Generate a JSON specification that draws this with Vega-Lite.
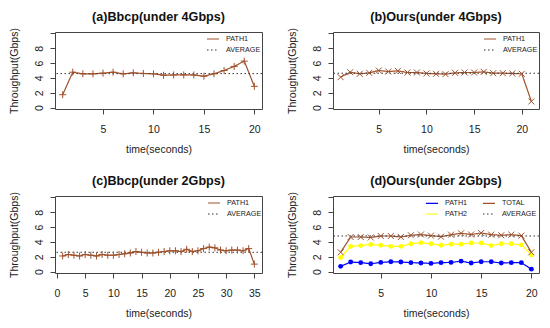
{
  "$schema": "https://vega.github.io/schema/vega-lite/v6.json",
  "background": "white",
  "padding": {"left": 8, "top": 10, "right": 0, "bottom": 0},
  "config": {
    "view": {"stroke": "#444", "strokeWidth": 1},
    "font": "Liberation Sans",
    "axis": {"grid": false, "domain": false, "tickColor": "#444", "tickSize": 5, "labelFont": "Liberation Sans", "labelFontSize": 10.5, "labelColor": "#222", "titleFont": "Liberation Sans", "titleFontSize": 10.5, "titleFontWeight": "normal", "titleColor": "#222", "labelFlush": false},
    "axisX": {"labelPadding": 10, "titlePadding": 10},
    "axisY": {"labelAngle": -90, "labelAlign": "center", "labelBaseline": "bottom", "labelPadding": 6, "titlePadding": 15},
    "title": {"font": "Liberation Sans", "fontSize": 12.6, "fontWeight": "bold", "color": "#111", "anchor": "middle", "baseline": "alphabetic", "offset": 4},
    "legend": {"orient": "none", "title": null, "symbolType": "stroke", "symbolSize": 144, "symbolStrokeWidth": 1.2, "labelFontSize": 7.2, "labelFont": "Liberation Sans", "labelColor": "#222", "labelOffset": 6, "rowPadding": 0, "padding": 0, "legendY": 0}
  },
  "datasets": {
    "a": [
      {"t":1,"v":1.73,"s":"PATH1"},{"t":2,"v":4.77,"s":"PATH1"},{"t":3,"v":4.55,"s":"PATH1"},{"t":4,"v":4.55,"s":"PATH1"},{"t":5,"v":4.64,"s":"PATH1"},
      {"t":6,"v":4.77,"s":"PATH1"},{"t":7,"v":4.55,"s":"PATH1"},{"t":8,"v":4.68,"s":"PATH1"},{"t":9,"v":4.6,"s":"PATH1"},{"t":10,"v":4.55,"s":"PATH1"},
      {"t":11,"v":4.36,"s":"PATH1"},{"t":12,"v":4.4,"s":"PATH1"},{"t":13,"v":4.4,"s":"PATH1"},{"t":14,"v":4.4,"s":"PATH1"},{"t":15,"v":4.23,"s":"PATH1"},
      {"t":16,"v":4.55,"s":"PATH1"},{"t":17,"v":5.0,"s":"PATH1"},{"t":18,"v":5.55,"s":"PATH1"},{"t":19,"v":6.27,"s":"PATH1"},{"t":20,"v":2.86,"s":"PATH1"}
    ],
    "b": [
      {"t":1,"v":4.1,"s":"PATH1"},{"t":2,"v":4.77,"s":"PATH1"},{"t":3,"v":4.55,"s":"PATH1"},{"t":4,"v":4.68,"s":"PATH1"},{"t":5,"v":5.0,"s":"PATH1"},
      {"t":6,"v":4.86,"s":"PATH1"},{"t":7,"v":4.95,"s":"PATH1"},{"t":8,"v":4.73,"s":"PATH1"},{"t":9,"v":4.73,"s":"PATH1"},{"t":10,"v":4.6,"s":"PATH1"},
      {"t":11,"v":4.55,"s":"PATH1"},{"t":12,"v":4.5,"s":"PATH1"},{"t":13,"v":4.68,"s":"PATH1"},{"t":14,"v":4.73,"s":"PATH1"},{"t":15,"v":4.73,"s":"PATH1"},
      {"t":16,"v":4.82,"s":"PATH1"},{"t":17,"v":4.64,"s":"PATH1"},{"t":18,"v":4.64,"s":"PATH1"},{"t":19,"v":4.6,"s":"PATH1"},{"t":20,"v":4.55,"s":"PATH1"},
      {"t":21,"v":0.82,"s":"PATH1"}
    ],
    "c": [
      {"t":1,"v":2.1,"s":"PATH1"},{"t":2,"v":2.3,"s":"PATH1"},{"t":3,"v":2.2,"s":"PATH1"},{"t":4,"v":2.1,"s":"PATH1"},{"t":5,"v":2.3,"s":"PATH1"},
      {"t":6,"v":2.2,"s":"PATH1"},{"t":7,"v":2.1,"s":"PATH1"},{"t":8,"v":2.3,"s":"PATH1"},{"t":9,"v":2.2,"s":"PATH1"},{"t":10,"v":2.2,"s":"PATH1"},
      {"t":11,"v":2.3,"s":"PATH1"},{"t":12,"v":2.4,"s":"PATH1"},{"t":13,"v":2.5,"s":"PATH1"},{"t":14,"v":2.7,"s":"PATH1"},{"t":15,"v":2.6,"s":"PATH1"},
      {"t":16,"v":2.5,"s":"PATH1"},{"t":17,"v":2.5,"s":"PATH1"},{"t":18,"v":2.6,"s":"PATH1"},{"t":19,"v":2.7,"s":"PATH1"},{"t":20,"v":2.8,"s":"PATH1"},
      {"t":21,"v":2.8,"s":"PATH1"},{"t":22,"v":2.7,"s":"PATH1"},{"t":23,"v":3.0,"s":"PATH1"},{"t":24,"v":2.7,"s":"PATH1"},{"t":25,"v":2.8,"s":"PATH1"},
      {"t":26,"v":3.1,"s":"PATH1"},{"t":27,"v":3.3,"s":"PATH1"},{"t":28,"v":3.2,"s":"PATH1"},{"t":29,"v":2.9,"s":"PATH1"},{"t":30,"v":2.8,"s":"PATH1"},
      {"t":31,"v":2.9,"s":"PATH1"},{"t":32,"v":2.9,"s":"PATH1"},{"t":33,"v":2.8,"s":"PATH1"},{"t":34,"v":3.1,"s":"PATH1"},{"t":35,"v":1.0,"s":"PATH1"}
    ],
    "d": [
      {"t":1,"v":2.6,"s":"TOTAL"},{"t":2,"v":4.66,"s":"TOTAL"},{"t":3,"v":4.66,"s":"TOTAL"},{"t":4,"v":4.6,"s":"TOTAL"},{"t":5,"v":4.8,"s":"TOTAL"},
      {"t":6,"v":4.8,"s":"TOTAL"},{"t":7,"v":4.66,"s":"TOTAL"},{"t":8,"v":4.9,"s":"TOTAL"},{"t":9,"v":5.0,"s":"TOTAL"},{"t":10,"v":4.85,"s":"TOTAL"},
      {"t":11,"v":4.7,"s":"TOTAL"},{"t":12,"v":4.98,"s":"TOTAL"},{"t":13,"v":5.16,"s":"TOTAL"},{"t":14,"v":5.0,"s":"TOTAL"},{"t":15,"v":5.2,"s":"TOTAL"},
      {"t":16,"v":4.98,"s":"TOTAL"},{"t":17,"v":4.9,"s":"TOTAL"},{"t":18,"v":4.98,"s":"TOTAL"},{"t":19,"v":4.85,"s":"TOTAL"},{"t":20,"v":2.6,"s":"TOTAL"},
      {"t":1,"v":1.9,"s":"PATH2"},{"t":2,"v":3.4,"s":"PATH2"},{"t":3,"v":3.5,"s":"PATH2"},{"t":4,"v":3.65,"s":"PATH2"},{"t":5,"v":3.55,"s":"PATH2"},
      {"t":6,"v":3.4,"s":"PATH2"},{"t":7,"v":3.4,"s":"PATH2"},{"t":8,"v":3.75,"s":"PATH2"},{"t":9,"v":3.9,"s":"PATH2"},{"t":10,"v":3.75,"s":"PATH2"},
      {"t":11,"v":3.55,"s":"PATH2"},{"t":12,"v":3.7,"s":"PATH2"},{"t":13,"v":3.7,"s":"PATH2"},{"t":14,"v":3.85,"s":"PATH2"},{"t":15,"v":3.85,"s":"PATH2"},
      {"t":16,"v":3.5,"s":"PATH2"},{"t":17,"v":3.75,"s":"PATH2"},{"t":18,"v":3.75,"s":"PATH2"},{"t":19,"v":3.6,"s":"PATH2"},{"t":20,"v":2.25,"s":"PATH2"},
      {"t":1,"v":0.7,"s":"PATH1"},{"t":2,"v":1.28,"s":"PATH1"},{"t":3,"v":1.2,"s":"PATH1"},{"t":4,"v":1.05,"s":"PATH1"},{"t":5,"v":1.23,"s":"PATH1"},
      {"t":6,"v":1.32,"s":"PATH1"},{"t":7,"v":1.28,"s":"PATH1"},{"t":8,"v":1.2,"s":"PATH1"},{"t":9,"v":1.15,"s":"PATH1"},{"t":10,"v":1.1,"s":"PATH1"},
      {"t":11,"v":1.2,"s":"PATH1"},{"t":12,"v":1.23,"s":"PATH1"},{"t":13,"v":1.4,"s":"PATH1"},{"t":14,"v":1.15,"s":"PATH1"},{"t":15,"v":1.32,"s":"PATH1"},
      {"t":16,"v":1.32,"s":"PATH1"},{"t":17,"v":1.15,"s":"PATH1"},{"t":18,"v":1.2,"s":"PATH1"},{"t":19,"v":1.2,"s":"PATH1"},{"t":20,"v":0.32,"s":"PATH1"}
    ],
    "avg": [
      {"panel":"a","s":"AVERAGE","v":4.58},
      {"panel":"b","s":"AVERAGE","v":4.63},
      {"panel":"c","s":"AVERAGE","v":2.6},
      {"panel":"d","s":"AVERAGE","v":4.8}
    ]
  },
  "columns": 2,
  "spacing": {"row": 87, "column": 71},
  "bounds": "flush",
  "resolve": {
    "scale": {"x": "independent", "y": "independent", "color": "independent", "strokeDash": "independent"},
    "legend": {"color": "independent", "strokeDash": "independent"}
  },
  "concat": [
    {
      "width": 207, "height": 77,
      "title": {"text": "(a)Bbcp(under 4Gbps)"},
      "encoding": {
        "x": {"field": "t", "type": "quantitative", "scale": {"domain": [0.24, 20.76], "nice": false, "zero": false}, "axis": {"values": [5, 10, 15, 20], "title": "time(seconds)"}},
        "y": {"field": "v", "type": "quantitative", "scale": {"domain": [-0.2, 10.2], "nice": false}, "axis": {"values": [0, 2, 4, 6, 8, 10], "labelExpr": "datum.value == 10 ? '' : datum.label", "title": "Throughput(Gbps)"}}
      },
      "layer": [
        {"data": {"name": "a"}, "mark": {"type": "line", "strokeWidth": 1.2},
         "encoding": {
           "color": {"field": "s", "type": "nominal", "scale": {"domain": ["PATH1", "AVERAGE"], "range": ["#A0522D", "#333333"]}, "legend": {"legendX": 151}},
           "strokeDash": {"field": "s", "type": "nominal", "scale": {"domain": ["PATH1", "AVERAGE"], "range": [[1, 0], [1.5, 2.5]]}, "legend": {"legendX": 151}}
         }},
        {"data": {"name": "avg"}, "transform": [{"filter": "datum.panel == 'a'"}], "mark": {"type": "rule", "strokeWidth": 1},
         "encoding": {"x": null, "y": {"field": "v", "type": "quantitative"}, "color": {"field": "s", "type": "nominal"}, "strokeDash": {"field": "s", "type": "nominal"}}},
        {"data": {"name": "a"}, "mark": {"type": "point", "shape": "M-1,0H1M0,-1V1", "size": 49, "strokeWidth": 1, "filled": false, "color": "#A0522D", "opacity": 1}}
      ]
    },
    {
      "width": 206, "height": 77,
      "title": {"text": "(b)Ours(under 4Gbps)"},
      "encoding": {
        "x": {"field": "t", "type": "quantitative", "scale": {"domain": [0.2, 21.8], "nice": false, "zero": false}, "axis": {"values": [5, 10, 15, 20], "title": "time(seconds)"}},
        "y": {"field": "v", "type": "quantitative", "scale": {"domain": [-0.2, 10.2], "nice": false}, "axis": {"values": [0, 2, 4, 6, 8, 10], "labelExpr": "datum.value == 10 ? '' : datum.label", "title": "Throughput(Gbps)"}}
      },
      "layer": [
        {"data": {"name": "b"}, "mark": {"type": "line", "strokeWidth": 1.2},
         "encoding": {
           "color": {"field": "s", "type": "nominal", "scale": {"domain": ["PATH1", "AVERAGE"], "range": ["#A0522D", "#333333"]}, "legend": {"legendX": 150}},
           "strokeDash": {"field": "s", "type": "nominal", "scale": {"domain": ["PATH1", "AVERAGE"], "range": [[1, 0], [1.5, 2.5]]}, "legend": {"legendX": 150}}
         }},
        {"data": {"name": "avg"}, "transform": [{"filter": "datum.panel == 'b'"}], "mark": {"type": "rule", "strokeWidth": 1},
         "encoding": {"x": null, "y": {"field": "v", "type": "quantitative"}, "color": {"field": "s", "type": "nominal"}, "strokeDash": {"field": "s", "type": "nominal"}}},
        {"data": {"name": "b"}, "mark": {"type": "point", "shape": "M-1,-1L1,1M-1,1L1,-1", "size": 36, "strokeWidth": 1, "filled": false, "color": "#A0522D", "opacity": 1}}
      ]
    },
    {
      "width": 207, "height": 77,
      "title": {"text": "(c)Bbcp(under 2Gbps)"},
      "encoding": {
        "x": {"field": "t", "type": "quantitative", "scale": {"domain": [-0.36, 36.36], "nice": false, "zero": false}, "axis": {"values": [0, 5, 10, 15, 20, 25, 30, 35], "title": "time(seconds)"}},
        "y": {"field": "v", "type": "quantitative", "scale": {"domain": [-0.2, 10.2], "nice": false}, "axis": {"values": [0, 2, 4, 6, 8, 10], "labelExpr": "datum.value == 10 ? '' : datum.label", "title": "Throughput(Gbps)"}}
      },
      "layer": [
        {"data": {"name": "c"}, "mark": {"type": "line", "strokeWidth": 1.2},
         "encoding": {
           "color": {"field": "s", "type": "nominal", "scale": {"domain": ["PATH1", "AVERAGE"], "range": ["#A0522D", "#333333"]}, "legend": {"legendX": 152}},
           "strokeDash": {"field": "s", "type": "nominal", "scale": {"domain": ["PATH1", "AVERAGE"], "range": [[1, 0], [1.5, 2.5]]}, "legend": {"legendX": 152}}
         }},
        {"data": {"name": "avg"}, "transform": [{"filter": "datum.panel == 'c'"}], "mark": {"type": "rule", "strokeWidth": 1},
         "encoding": {"x": null, "y": {"field": "v", "type": "quantitative"}, "color": {"field": "s", "type": "nominal"}, "strokeDash": {"field": "s", "type": "nominal"}}},
        {"data": {"name": "c"}, "mark": {"type": "point", "shape": "M-1,0H1M0,-1V1", "size": 49, "strokeWidth": 1, "filled": false, "color": "#A0522D", "opacity": 1}}
      ]
    },
    {
      "width": 206, "height": 77,
      "title": {"text": "(d)Ours(under 2Gbps)"},
      "encoding": {
        "x": {"field": "t", "type": "quantitative", "scale": {"domain": [0.24, 20.76], "nice": false, "zero": false}, "axis": {"values": [5, 10, 15, 20], "title": "time(seconds)"}},
        "y": {"field": "v", "type": "quantitative", "scale": {"domain": [-0.2, 10.2], "nice": false}, "axis": {"values": [0, 2, 4, 6, 8, 10], "labelExpr": "datum.value == 10 ? '' : datum.label", "title": "Throughput(Gbps)"}}
      },
      "layer": [
        {"data": {"name": "d"}, "mark": {"type": "line", "strokeWidth": 1.2},
         "encoding": {
           "color": {"field": "s", "type": "nominal", "scale": {"domain": ["PATH1", "PATH2", "TOTAL", "AVERAGE"], "range": ["#0000FF", "#FFFF00", "#A0522D", "#333333"]}, "legend": {"legendX": 92, "columns": 2, "columnPadding": 12}},
           "strokeDash": {"field": "s", "type": "nominal", "scale": {"domain": ["PATH1", "PATH2", "TOTAL", "AVERAGE"], "range": [[1, 0], [1, 0], [1, 0], [1.5, 2.5]]}, "legend": {"legendX": 92, "columns": 2, "columnPadding": 12}}
         }},
        {"data": {"name": "avg"}, "transform": [{"filter": "datum.panel == 'd'"}], "mark": {"type": "rule", "strokeWidth": 1},
         "encoding": {"x": null, "y": {"field": "v", "type": "quantitative"}, "color": {"field": "s", "type": "nominal"}, "strokeDash": {"field": "s", "type": "nominal"}}},
        {"data": {"name": "d"}, "transform": [{"filter": "datum.s == 'PATH1'"}], "mark": {"type": "point", "shape": "circle", "size": 24, "filled": true, "color": "#0000FF", "opacity": 1}},
        {"data": {"name": "d"}, "transform": [{"filter": "datum.s == 'PATH2'"}], "mark": {"type": "point", "shape": "circle", "size": 24, "filled": true, "color": "#FFFF00", "opacity": 1}},
        {"data": {"name": "d"}, "transform": [{"filter": "datum.s == 'TOTAL'"}], "mark": {"type": "point", "shape": "M-1,-1L1,1M-1,1L1,-1", "size": 36, "strokeWidth": 1, "filled": false, "color": "#A0522D", "opacity": 1}}
      ]
    }
  ]
}
